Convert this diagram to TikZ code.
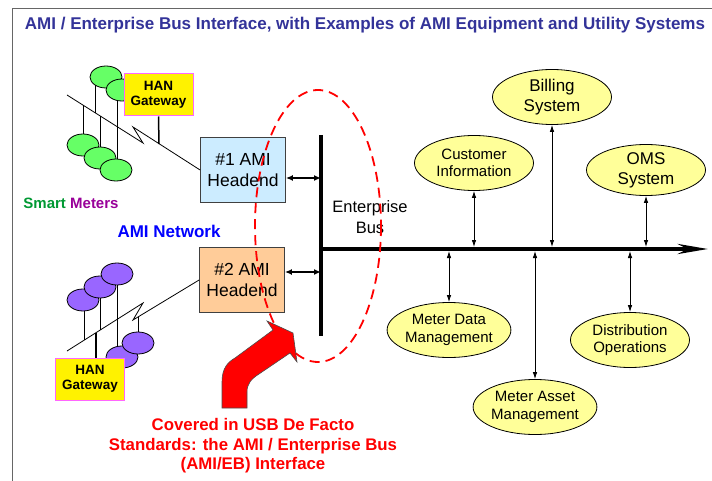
\documentclass[tikz,border=0pt]{standalone}
\usepackage{fontspec}
\setmainfont{Liberation Sans}
\usepackage{tikz}
\usetikzlibrary{arrows.meta, shapes.geometric}
\definecolor{titleBlue}{RGB}{51,51,153}
\definecolor{meterGreen}{RGB}{102,255,102}
\definecolor{meterPurple}{RGB}{153,102,255}
\definecolor{hanPink}{RGB}{255,102,255}
\definecolor{headBlue}{RGB}{204,236,255}
\definecolor{headPeach}{RGB}{255,204,153}
\definecolor{sysYellow}{RGB}{255,255,153}
\definecolor{smartGreen}{RGB}{0,153,51}
\definecolor{meterWord}{RGB}{153,0,153}

\begin{document}
\begin{tikzpicture}[x=1pt, y=-1pt,
		% meter ellipses of the AMI network
		meterOval/.style={
			ellipse,
			draw=black,
			line width=0.8pt,
			minimum width=32pt,
			minimum height=22pt,
			inner sep=0pt
		},
		% HAN gateway box
		hanBox/.style={
			draw=hanPink,
			fill=yellow,
			line width=1pt,
			minimum width=69pt,
			minimum height=42pt,
			inner sep=1pt,
			align=center,
			font=\fontsize{13.5}{15.5}\selectfont\bfseries
		},
		% headend box
		headBox/.style={
			draw=black!75,
			line width=0.8pt,
			minimum width=85pt,
			minimum height=65pt,
			align=center,
			font=\fontsize{17.5}{20.5}\selectfont
		},
		% utility system ellipse
		sysOval/.style={
			ellipse,
			draw=black,
			fill=sysYellow,
			line width=0.8pt,
			minimum width=119pt,
			minimum height=55pt,
			inner sep=0pt,
			align=center,
			font=\fontsize{15}{17.5}\selectfont
		},
		sysArrow/.style={{Latex[length=7pt,width=4.5pt]}-{Latex[length=7pt,width=4.5pt]}, line width=0.8pt, shorten >=2pt},
		hubArrow/.style={{Latex[length=7pt,width=6pt]}-{Latex[length=7pt,width=6pt]}, line width=1.5pt},
		netLine/.style={line width=0.8pt},
		postLine/.style={line width=1pt}
		]
		
		\useasboundingbox (0,0) rectangle (712,481);
		\fill[white] (0,0) rectangle (712,481);
		
		% frame and title
		\draw[black!60, line width=1pt] (12,481) -- (12,9) -- (712,9);
		\node[font=\fontsize{17}{20}\selectfont\bfseries, text=titleBlue] (title) at (365,25) {AMI / Enterprise Bus Interface, with Examples of AMI Equipment and Utility Systems};
		
		% the two headends
		\node[headBox, fill=headBlue] (head1) at (243,170) {\#1 AMI \\ Headend};
		\node[headBox, fill=headPeach] (head2) at (242,280) {\#2 AMI \\ Headend};
		
		% upper meter group
		\draw[netLine] (67,95) -- (143,143) -- (133,127) -- (head1.west);
		\draw[postLine] (83,105) -- (83,145);
		\draw[postLine] (95,77) -- (95,113);
		\draw[postLine] (100,116) -- (100,158);
		\draw[postLine] (117,90) -- (117,170);
		\node[meterOval, fill=meterGreen] (meterA) at (106,77) {};
		\node[meterOval, fill=meterGreen] (meterB) at (122,90) {};
		\node[meterOval, fill=meterGreen] (meterC) at (83,145) {};
		\node[meterOval, fill=meterGreen] (meterD) at (100,158) {};
		\node[meterOval, fill=meterGreen] (meterE) at (116,170) {};
		\node[hanBox] (hanA) at (158.5,95) {HAN \\ Gateway};
		\draw[line width=1.5pt] (hanA.south) -- (159,144);
		
		% lower meter group
		\draw[netLine] (67,351) -- (143,303) -- (133,320) -- (head2.west);
		\draw[postLine] (84,300) -- (84,340);
		\draw[postLine] (100,287) -- (100,330);
		\draw[postLine] (117,274) -- (117,357);
		\draw[postLine] (138,317) -- (138,343);
		\node[meterOval, fill=meterPurple] (meterF) at (83,300) {};
		\node[meterOval, fill=meterPurple] (meterG) at (100,287) {};
		\node[meterOval, fill=meterPurple] (meterH) at (117,274) {};
		\node[meterOval, fill=meterPurple] (meterI) at (122,357) {};
		\node[meterOval, fill=meterPurple] (meterJ) at (138,343) {};
		\node[hanBox] (hanB) at (90,379) {HAN \\ Gateway};
		\draw[line width=1.5pt] (96,333) -- (96,358);
		
		% labels on the left
		\node[font=\fontsize{15}{17}\selectfont\bfseries] (smartLbl) at (71,203) {\textcolor{smartGreen}{Smart} \textcolor{meterWord}{Meters}};
		\node[font=\fontsize{17}{20}\selectfont\bfseries, text=blue] (netLbl) at (169,231) {AMI Network};
		
		% enterprise bus
		\coordinate (busTop) at (321,135);
		\coordinate (busBot) at (321,336);
		\coordinate (busStart) at (321,249);
		\coordinate (busEnd) at (708,249);
		\draw[line width=4pt] (busTop) -- (busBot);
		\draw[line width=4pt, -{Stealth[length=30pt,width=10pt]}] (busStart) -- (busEnd);
		\node[font=\fontsize{16.5}{21}\selectfont, align=center] (busLbl) at (370,217) {Enterprise \\ Bus};
		
		\draw[hubArrow] ([yshift=-8pt]head1.east) -- ([yshift=-8pt]head1.east -| busTop);
		\draw[hubArrow] ([yshift=8pt]head2.east) -- ([yshift=8pt]head2.east -| busTop);
		
		% utility systems
		\node[sysOval] (cust) at (474,163) {Customer \\ Information};
		\node[sysOval, font=\fontsize{17}{20}\selectfont] (bill) at (552,97) {Billing \\ System};
		\node[sysOval, font=\fontsize{17}{20}\selectfont, minimum height=51pt] (oms) at (646,170) {OMS \\ System};
		\node[sysOval] (mdm) at (449,330) {Meter Data \\ Management};
		\node[sysOval] (mam) at (535,407) {Meter Asset \\ Management};
		\node[sysOval] (dist) at (630,340) {Distribution \\ Operations};
		
		\draw[sysArrow] (cust.south) -- (cust.south |- busStart);
		\draw[sysArrow] (bill.south) -- (bill.south |- busStart);
		\draw[sysArrow] (oms.south) -- (oms.south |- busStart);
		\draw[sysArrow] (mdm.north) -- (mdm.north |- busStart);
		\draw[sysArrow] (mam.north) -- (mam.north |- busStart);
		\draw[sysArrow] (dist.north) -- (dist.north |- busStart);
		
		% scope of the interface
		\draw[red, line width=1.8pt, dash pattern=on 10pt off 6pt] (318,226) ellipse [x radius=63, y radius=136];
		\draw[fill=red, draw=black!70, line width=0.6pt]
			(222,408) -- (222,382) .. controls (222,368) and (228,362) .. (235,358)
			-- (273,330) -- (267,321) -- (293,333) -- (297,362) -- (290,353)
			-- (259,374) .. controls (251,379) and (247,384) .. (247,392) -- (247,408) -- cycle;
		\node[font=\fontsize{16.8}{19.5}\selectfont\bfseries, text=red, align=center] (scopeLbl) at (253,446) {Covered in USB De Facto \\ Standards: the AMI / Enterprise Bus \\ (AMI/EB) Interface};
		
	\end{tikzpicture}
\end{document}
